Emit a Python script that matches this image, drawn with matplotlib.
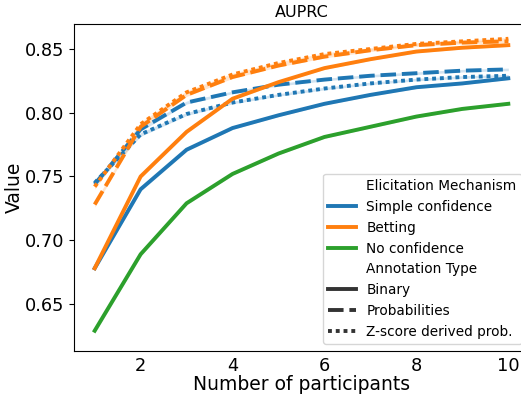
import matplotlib
matplotlib.use("Agg")
import matplotlib.pyplot as plt
from matplotlib.lines import Line2D
import numpy as np

participants = [1, 2, 3, 4, 5, 6, 7, 8, 9, 10]

simple_binary = [0.678, 0.740, 0.771, 0.788, 0.798, 0.807, 0.814, 0.820, 0.823, 0.827]
simple_prob = [0.744, 0.787, 0.808, 0.816, 0.822, 0.826, 0.829, 0.831, 0.833, 0.834]
simple_z = [0.745, 0.783, 0.799, 0.808, 0.814, 0.819, 0.823, 0.826, 0.828, 0.829]

betting_binary = [0.678, 0.750, 0.785, 0.811, 0.824, 0.835, 0.842, 0.848, 0.851, 0.853]
betting_prob = [0.728, 0.789, 0.814, 0.828, 0.837, 0.844, 0.849, 0.853, 0.855, 0.856]
betting_z = [0.742, 0.791, 0.816, 0.830, 0.839, 0.846, 0.850, 0.854, 0.856, 0.858]

noconf_binary = [0.629, 0.689, 0.729, 0.752, 0.768, 0.781, 0.789, 0.797, 0.803, 0.807]

ci_half = [0.002, 0.0015, 0.0012, 0.001, 0.001, 0.001, 0.001, 0.001, 0.001, 0.001]

mechanisms = ["Simple confidence", "Betting", "No confidence"]
annotation_types = ["Binary", "Probabilities", "Z-score derived prob."]
colors = ["#1f77b4", "#ff7f0e", "#2ca02c"]
dash_styles = [(None, None), (4, 1.5), (1, 1)]

series = [
    (0, 0, simple_binary), (0, 1, simple_prob), (0, 2, simple_z),
    (1, 0, betting_binary), (1, 1, betting_prob), (1, 2, betting_z),
    (2, 0, noconf_binary),
]

W, H = 521, 395
fig = plt.figure(figsize=(W / 100, H / 100), dpi=100)
left, right, top, bottom = 74, 529, 24, 351
ax = fig.add_axes([left / W, 1 - bottom / H, (right - left) / W, (bottom - top) / H])

x = np.array(participants)
lw = 2.8
for hi, si, vals in series:
    v = np.array(vals)
    c = np.array(ci_half)
    ax.fill_between(x, v - c, v + c, color=colors[hi], alpha=0.2, lw=0)
    ln, = ax.plot(x, v, color=colors[hi], lw=lw)
    if si > 0:
        ln.set_dashes(dash_styles[si])

ax.set_xlim(0.55, 10.45)
ax.set_ylim(0.6131, 0.8696)
ax.set_xticks([2, 4, 6, 8, 10])
ax.set_yticks([0.65, 0.70, 0.75, 0.80, 0.85])
ax.tick_params(labelsize=12.8)
ax.tick_params(axis="x", length=0, pad=4)
ax.set_title("AUPRC", fontsize=11.5, pad=5)
ax.set_xlabel("Number of participants", fontsize=13.5, labelpad=0)
ax.set_ylabel("Value", fontsize=13.5, labelpad=1)

handles = [Line2D([], [], color="none", lw=0)]
labels = ["Elicitation Mechanism"]
for c, m in zip(colors, mechanisms):
    handles.append(Line2D([], [], color=c, lw=lw))
    labels.append(m)
handles.append(Line2D([], [], color="none", lw=0))
labels.append("Annotation Type")
for d, a in zip(dash_styles, annotation_types):
    h = Line2D([], [], color="#333333", lw=lw)
    if d[0] is not None:
        h.set_dashes(d)
    handles.append(h)
    labels.append(a)
ax.legend(handles, labels, loc="lower right", fontsize=9.8)

fig.savefig("out.png", dpi=100)
